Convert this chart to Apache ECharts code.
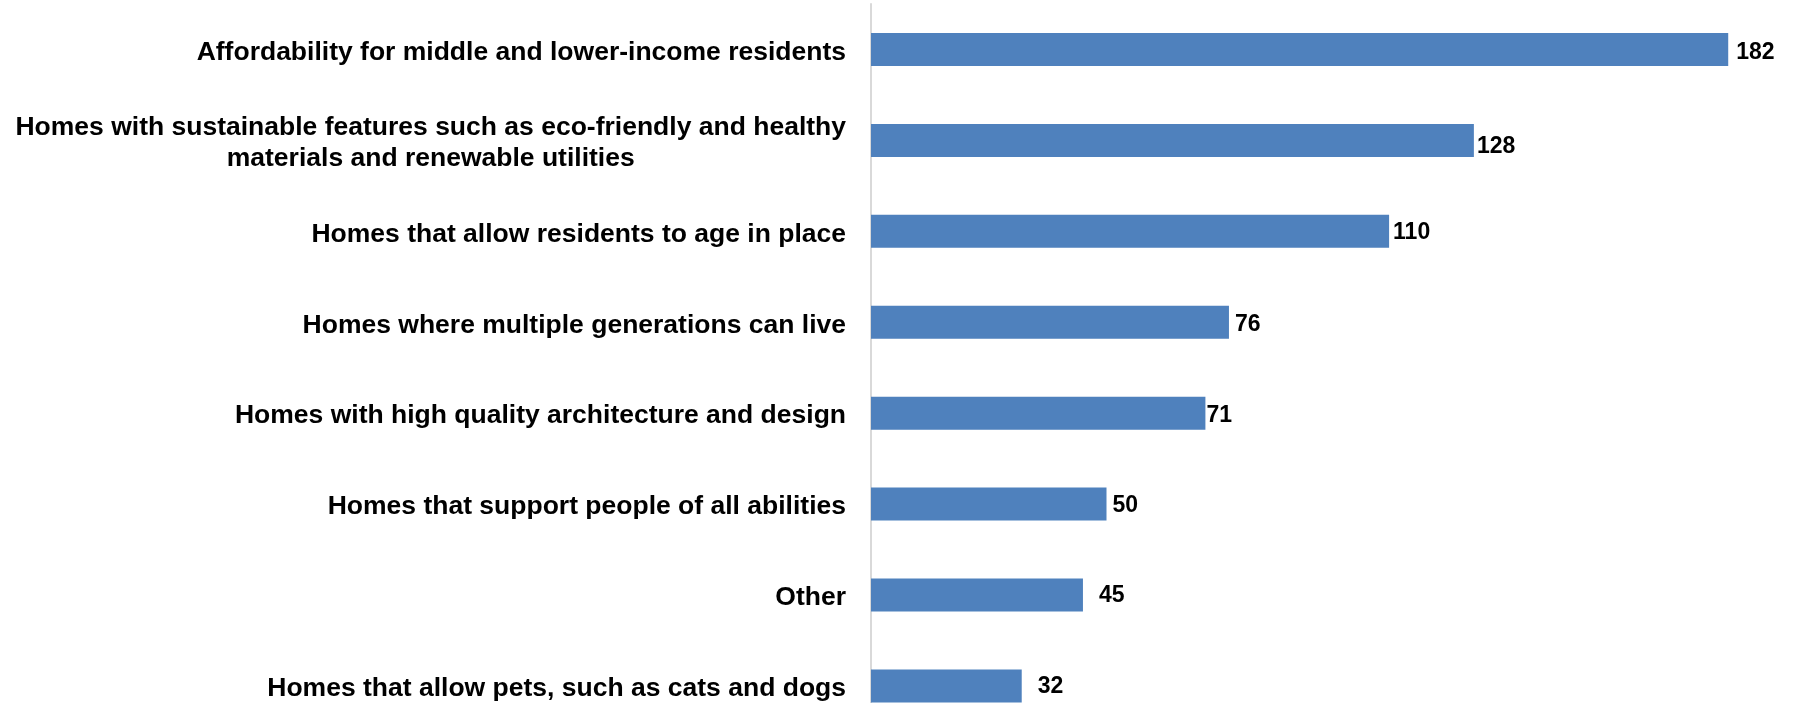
<!DOCTYPE html>
<html>
<head>
<meta charset="utf-8">
<title>Housing priorities</title>
<script src="https://cdn.jsdelivr.net/npm/echarts@6/dist/echarts.min.js"></script>
<style>
  html, body { margin: 0; padding: 0; background: #ffffff; }
  #chart { width: 1796px; height: 703px; }
</style>
</head>
<body>
<div id="chart"></div>
<script>
// Responses per housing priority, top to bottom
const categories = [
  'Affordability for middle and lower-income residents',
  'Homes with sustainable features such as eco-friendly and healthy\nmaterials and renewable utilities',
  'Homes that allow residents to age in place',
  'Homes where multiple generations can live',
  'Homes with high quality architecture and design',
  'Homes that support people of all abilities',
  'Other',
  'Homes that allow pets, such as cats and dogs'
];
const counts = [182, 128, 110, 76, 71, 50, 45, 32];

// Small per-label nudges for the value labels: [dx, dy] in pixels
const labelNudge = [[8, 3], [3, 6], [4, 1], [6, 2], [1, 2], [6, 2], [16, 1], [16, 1]];

const FONT = 'Arial, "Liberation Sans", Helvetica, sans-serif';

const chart = echarts.init(document.getElementById('chart'), null, { renderer: 'canvas' });

chart.setOption({
  backgroundColor: '#ffffff',
  animation: false,
  grid: {
    left: 871,
    top: 4,
    width: 942,
    height: 727.4,
    containLabel: false,
    outerBoundsMode: 'none'
  },
  xAxis: {
    type: 'value',
    min: 0,
    max: 200,
    show: false
  },
  yAxis: {
    type: 'category',
    inverse: true,
    data: categories,
    axisLine: { show: true, lineStyle: { color: '#d9d9d9', width: 2 } },
    axisTick: { show: false },
    splitLine: { show: false },
    axisLabel: {
      margin: 25,
      align: 'right',
      padding: [6, 0, 0, 0],
      formatter: function (name) {
        return name.split('\n').map(function (line) { return '{c|' + line + '}'; }).join('\n');
      },
      rich: {
        c: {
          align: 'center',
          fontFamily: FONT,
          fontWeight: 'bold',
          fontSize: 26.5,
          lineHeight: 31,
          color: '#000000'
        }
      }
    }
  },
  series: [{
    type: 'bar',
    barWidth: 33,
    itemStyle: { color: '#4F81BD' },
    label: {
      show: true,
      position: 'right',
      distance: 0,
      fontFamily: FONT,
      fontWeight: 'bold',
      fontSize: 23,
      color: '#000000'
    },
    data: counts.map(function (v, i) {
      return { value: v, label: { offset: labelNudge[i] } };
    })
  }]
});
</script>
</body>
</html>
